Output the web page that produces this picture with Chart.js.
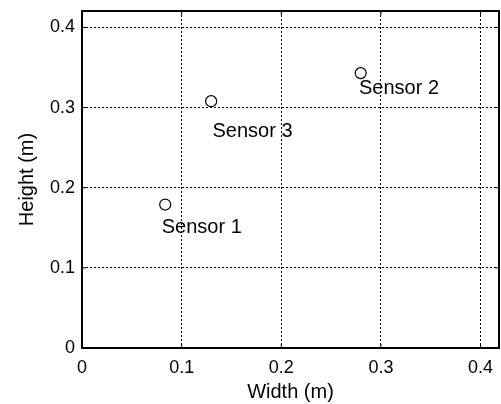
<!DOCTYPE html>
<html>
<head>
<meta charset="utf-8">
<script src="https://cdn.jsdelivr.net/npm/chart.js@4/dist/chart.umd.min.js"></script>
<style>
html,body{margin:0;padding:0;background:#fff;}
#wrap{position:relative;width:501px;height:404px;}
</style>
</head>
<body>
<div id="wrap"><canvas id="c" width="501" height="404"></canvas></div>
<script>
const sensorNames = ["Sensor 1", "Sensor 2", "Sensor 3"];
const sensorX = [0.0835, 0.2797, 0.1296];
const sensorY = [0.179, 0.343, 0.308];
const labelX = [0.080, 0.278, 0.131];
const labelY = [0.151, 0.324, 0.270];
const tickValues = [0, 0.1, 0.2, 0.3, 0.4];
const xMax = 0.4185;
const yMax = 0.4205;

const FONT = "'Liberation Sans', Arial, sans-serif";

const framePlugin = {
  id: 'frame',
  afterDatasetsDraw(chart) {
    const ctx = chart.ctx, a = chart.chartArea;
    const xs = chart.scales.x, ys = chart.scales.y;
    ctx.save();
    ctx.strokeStyle = '#000';
    ctx.lineWidth = 1;
    tickValues.forEach(v => {
      const px = xs.getPixelForValue(v);
      ctx.beginPath();
      ctx.moveTo(px, a.bottom); ctx.lineTo(px, a.bottom - 4);
      ctx.moveTo(px, a.top); ctx.lineTo(px, a.top + 4);
      ctx.stroke();
      const py = ys.getPixelForValue(v);
      ctx.beginPath();
      ctx.moveTo(a.left, py); ctx.lineTo(a.left + 4, py);
      ctx.moveTo(a.right, py); ctx.lineTo(a.right - 4, py);
      ctx.stroke();
    });
    ctx.lineWidth = 2;
    ctx.strokeRect(a.left, a.top, a.right - a.left, a.bottom - a.top);
    ctx.fillStyle = '#000';
    ctx.font = "20px " + FONT;
    ctx.textAlign = 'left';
    ctx.textBaseline = 'middle';
    sensorNames.forEach((n, i) => {
      ctx.fillText(n, xs.getPixelForValue(labelX[i]), ys.getPixelForValue(labelY[i]));
    });
    ctx.restore();
  }
};

new Chart(document.getElementById('c'), {
  type: 'scatter',
  data: {
    datasets: [{
      data: sensorX.map((x, i) => ({x: x, y: sensorY[i]})),
      pointStyle: 'circle',
      pointRadius: 5.5,
      pointHoverRadius: 5.5,
      pointBorderWidth: 1.2,
      pointBorderColor: '#000',
      pointBackgroundColor: 'rgba(0,0,0,0)',
      showLine: false
    }]
  },
  options: {
    responsive: false,
    animation: false,
    devicePixelRatio: 1,
    layout: {padding: {left: 0, right: 2, top: 11, bottom: 0}},
    plugins: {legend: {display: false}, tooltip: {enabled: false}},
    scales: {
      x: {
        type: 'linear', min: 0, max: xMax,
        afterBuildTicks(s) { s.ticks = tickValues.map(v => ({value: v})); },
        afterFit(s) { s.height = 56; s.paddingLeft = 0; s.paddingRight = 0; },
        grid: {color: '#000', lineWidth: 1, drawTicks: false},
        border: {display: false, dash: [2, 2]},
        ticks: {color: '#000', font: {family: FONT, size: 18}, padding: 9,
                maxRotation: 0, callback: v => String(v)},
        title: {display: true, text: 'Width (m)', color: '#000',
                font: {family: FONT, size: 20}, padding: {top: 0, bottom: 0}}
      },
      y: {
        type: 'linear', min: 0, max: yMax,
        afterBuildTicks(s) { s.ticks = tickValues.map(v => ({value: v})); },
        afterFit(s) { s.width = 82; s.paddingTop = 0; s.paddingBottom = 0; },
        grid: {color: '#000', lineWidth: 1, drawTicks: false},
        border: {display: false, dash: [2, 2]},
        ticks: {color: '#000', font: {family: FONT, size: 18}, padding: 7,
                callback: v => String(v)},
        title: {display: true, text: 'Height (m)', color: '#000',
                font: {family: FONT, size: 20}, padding: {top: 15, bottom: 0}}
      }
    }
  },
  plugins: [framePlugin, {
    id: 'fixArea',
    afterLayout(chart) {
      const a = chart.chartArea;
      const xs = chart.scales.x;
      const r = chart.width - 2;
      a.right = r; a.width = r - a.left;
      xs.right = r; xs.width = r - xs.left;
      xs.configure();
      xs._cache = {};
    }
  }]
});
</script>
</body>
</html>
